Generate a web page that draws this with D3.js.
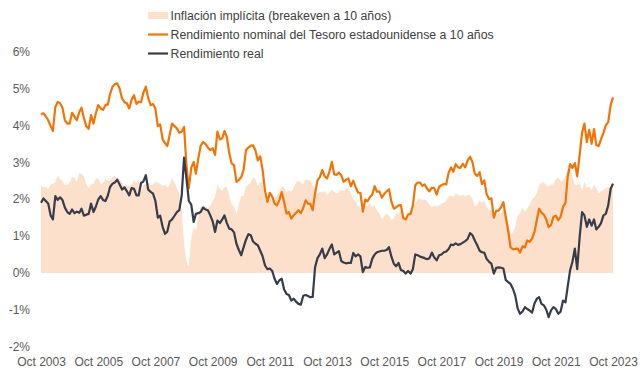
<!DOCTYPE html>
<html>
<head>
<meta charset="utf-8">
<script src="https://cdn.jsdelivr.net/npm/d3@7"></script>
<style>
  body { margin: 0; background: #fff; }
  svg text { font-family: "Liberation Sans", Arial, sans-serif; }
</style>
</head>
<body>
<svg id="chart" width="640" height="382"></svg>
<script>
// monthly values, Oct 2003 .. Oct 2023 (one row per calendar year)
var nominal = [
  4.30, 4.33, 4.25,
  4.14, 3.98, 3.85, 4.50, 4.64, 4.60, 4.48, 4.14, 4.05, 4.05, 4.34, 4.24,
  4.14, 4.36, 4.48, 4.20, 3.98, 3.91, 4.28, 4.05, 4.33, 4.55, 4.46, 4.42,
  4.55, 4.57, 4.85, 5.05, 5.12, 5.14, 5.00, 4.73, 4.63, 4.60, 4.46, 4.70,
  4.82, 4.58, 4.64, 4.63, 4.89, 5.05, 4.74, 4.55, 4.58, 4.45, 3.98, 4.03,
  3.62, 3.52, 3.44, 3.75, 4.05, 3.98, 3.92, 3.80, 3.83, 3.96, 2.90, 2.30,
  2.85, 3.01, 2.69, 3.10, 3.45, 3.55, 3.50, 3.40, 3.33, 3.38, 3.20, 3.83,
  3.62, 3.65, 3.85, 3.68, 3.25, 2.97, 2.92, 2.47, 2.52, 2.60, 2.80, 3.33,
  3.40, 3.45, 3.46, 3.32, 3.05, 3.16, 2.80, 2.22, 1.92, 2.17, 2.07, 1.88,
  1.83, 1.98, 2.19, 1.92, 1.61, 1.65, 1.47, 1.56, 1.63, 1.70, 1.62, 1.76,
  1.97, 1.88, 1.87, 1.70, 2.16, 2.51, 2.60, 2.79, 2.62, 2.56, 2.75, 3.01,
  2.67, 2.66, 2.72, 2.65, 2.47, 2.53, 2.56, 2.35, 2.50, 2.33, 2.18, 2.17,
  1.66, 1.99, 1.94, 2.05, 2.12, 2.35, 2.20, 2.21, 2.04, 2.14, 2.21, 2.27,
  1.94, 1.74, 1.78, 1.83, 1.84, 1.49, 1.45, 1.58, 1.60, 1.83, 2.38, 2.45,
  2.45, 2.36, 2.40, 2.28, 2.21, 2.31, 2.30, 2.12, 2.33, 2.38, 2.41, 2.40,
  2.72, 2.86, 2.74, 2.95, 2.86, 2.85, 2.96, 2.86, 3.05, 3.15, 3.01, 2.69,
  2.63, 2.73, 2.41, 2.51, 2.14, 2.00, 2.02, 1.50, 1.68, 1.69, 1.78, 1.92,
  1.51, 1.13, 0.70, 0.64, 0.65, 0.66, 0.55, 0.72, 0.69, 0.88, 0.84, 0.93,
  1.11, 1.44, 1.74, 1.63, 1.58, 1.45, 1.24, 1.30, 1.52, 1.55, 1.43, 1.52,
  1.79, 1.90, 2.60, 2.95, 2.85, 2.98, 2.62, 3.20, 3.80, 4.05, 3.55, 3.88,
  3.50, 3.90, 3.47, 3.44, 3.62, 3.80, 4.00, 4.09, 4.55, 4.76
];

var real = [
  1.90, 2.02, 1.95,
  1.88, 1.56, 1.45, 2.08, 1.98, 2.05, 1.98, 1.77, 1.65, 1.60, 1.72, 1.62,
  1.66, 1.63, 1.74, 1.55, 1.58, 1.60, 1.88, 1.65, 1.80, 1.99, 2.08, 1.98,
  1.95, 2.10, 2.33, 2.42, 2.45, 2.53, 2.40, 2.26, 2.32, 2.22, 2.10, 2.30,
  2.28, 2.10, 2.10, 2.44, 2.48, 2.65, 2.26, 2.20, 2.15, 1.95, 1.50, 1.55,
  1.25, 1.06, 1.12, 1.40, 1.45, 1.55, 1.65, 1.70, 2.10, 3.13, 2.55, 1.95,
  1.85, 1.38, 1.60, 1.62, 1.65, 1.77, 1.72, 1.70, 1.56, 1.40, 1.11, 1.42,
  1.35, 1.45, 1.56, 1.35, 1.20, 1.18, 1.10, 0.79, 0.62, 0.48, 0.70, 0.90,
  1.05, 1.02, 0.85, 0.79, 0.75, 0.60, 0.45, 0.20, 0.10, 0.12, 0.05, -0.16,
  -0.30, -0.20, -0.16, -0.45, -0.57, -0.60, -0.75, -0.70, -0.78, -0.84, -0.86, -0.62,
  -0.60, -0.63, -0.66, -0.65, 0.15, 0.40, 0.50, 0.66, 0.40, 0.50, 0.65, 0.77,
  0.50, 0.55, 0.59, 0.32, 0.28, 0.26, 0.27, 0.27, 0.54, 0.45, 0.50, 0.45,
  0.02, 0.16, 0.14, 0.15, 0.38, 0.50, 0.56, 0.58, 0.60, 0.60, 0.62, 0.70,
  0.44, 0.25, 0.18, 0.27, 0.08, 0.05, -0.02, 0.05, -0.02, 0.10, 0.50, 0.48,
  0.44, 0.42, 0.40, 0.37, 0.40, 0.55, 0.42, 0.34, 0.48, 0.50, 0.56, 0.58,
  0.65, 0.77, 0.75, 0.80, 0.76, 0.78, 0.82, 0.86, 0.92, 1.08, 1.02, 0.88,
  0.75, 0.60, 0.56, 0.55, 0.38, 0.30, 0.25, -0.02, 0.14, 0.15, 0.14, 0.12,
  -0.20, -0.25, -0.30, -0.43, -0.62, -0.97, -1.11, -1.05, -0.93, -0.98, -1.02, -1.08,
  -0.83, -0.70, -0.66, -0.84, -0.88, -1.00, -1.20, -1.02, -0.93, -0.98, -1.11, -1.05,
  -0.75, -0.80, -0.38, 0.07, 0.30, 0.66, 0.10, 0.97, 1.65, 1.56, 1.25, 1.45,
  1.28, 1.45, 1.18, 1.25, 1.35, 1.56, 1.60, 1.83, 2.28, 2.42
];

var breakeven = [
  2.38, 2.32, 2.32,
  2.28, 2.40, 2.42, 2.45, 2.65, 2.55, 2.50, 2.38, 2.40, 2.45, 2.60, 2.58,
  2.48, 2.70, 2.68, 2.62, 2.40, 2.30, 2.42, 2.42, 2.56, 2.56, 2.40, 2.44,
  2.55, 2.50, 2.52, 2.60, 2.62, 2.58, 2.55, 2.45, 2.35, 2.38, 2.36, 2.40,
  2.50, 2.45, 2.52, 2.22, 2.38, 2.42, 2.45, 2.38, 2.40, 2.48, 2.45, 2.42,
  2.35, 2.40, 2.32, 2.38, 2.58, 2.45, 2.30, 2.15, 1.70, 0.80, 0.30, 0.18,
  0.95, 1.25, 1.15, 1.55, 1.80, 1.82, 1.80, 1.75, 1.82, 1.95, 2.05, 2.42,
  2.28, 2.22, 2.32, 2.35, 2.10, 1.85, 1.80, 1.60, 1.85, 2.08, 2.10, 2.35,
  2.40, 2.45, 2.60, 2.55, 2.35, 2.48, 2.40, 2.05, 1.85, 2.00, 2.00, 2.00,
  2.10, 2.20, 2.35, 2.30, 2.18, 2.25, 2.20, 2.30, 2.45, 2.50, 2.45, 2.40,
  2.55, 2.52, 2.50, 2.38, 2.25, 2.15, 2.20, 2.18, 2.22, 2.12, 2.18, 2.25,
  2.20, 2.15, 2.18, 2.25, 2.22, 2.30, 2.28, 2.15, 2.02, 1.95, 1.80, 1.72,
  1.68, 1.82, 1.80, 1.90, 1.78, 1.85, 1.68, 1.62, 1.45, 1.55, 1.60, 1.55,
  1.45, 1.48, 1.62, 1.60, 1.70, 1.50, 1.45, 1.52, 1.62, 1.75, 1.88, 2.00,
  2.02, 1.98, 2.00, 1.95, 1.85, 1.78, 1.82, 1.80, 1.82, 1.88, 1.90, 1.95,
  2.08, 2.10, 2.05, 2.15, 2.12, 2.10, 2.12, 2.08, 2.12, 2.10, 2.02, 1.80,
  1.85, 1.98, 1.90, 1.95, 1.80, 1.68, 1.72, 1.55, 1.58, 1.60, 1.62, 1.75,
  1.70, 1.40, 1.05, 1.10, 1.25, 1.55, 1.62, 1.78, 1.65, 1.75, 1.85, 2.00,
  2.05, 2.18, 2.38, 2.45, 2.45, 2.38, 2.35, 2.40, 2.40, 2.55, 2.58, 2.50,
  2.48, 2.65, 2.80, 2.85, 2.60, 2.40, 2.38, 2.45, 2.25, 2.48, 2.30, 2.35,
  2.25, 2.40, 2.30, 2.15, 2.22, 2.25, 2.30, 2.32, 2.30, 2.35
];

var xTickLabels = ["Oct 2003", "Oct 2005", "Oct 2007", "Oct 2009", "Oct 2011",
                   "Oct 2013", "Oct 2015", "Oct 2017", "Oct 2019", "Oct 2021", "Oct 2023"];
var yTicks = [-2, -1, 0, 1, 2, 3, 4, 5, 6];

var legendLabels = ["Inflación implícita (breakeven a 10 años)",
                    "Rendimiento nominal del Tesoro estadounidense a 10 años",
                    "Rendimiento real"];

var colors = { area: "#fce0cc", nominal: "#f27405", real: "#363c49", text: "#595959" };

var start = new Date(2003, 9, 1);
var dates = nominal.map(function(d, i) { return d3.timeMonth.offset(start, i); });
var tickDates = xTickLabels.map(function(d, i) { return d3.timeMonth.offset(start, i * 24); });

var svg = d3.select('#chart');

var x = d3.scaleTime()
  .domain([start, dates[dates.length - 1]])
  .range([41, 613]);

var y = d3.scaleLinear()
  .domain([-2, 6])
  .range([346.6, 51.7]);

//----- Series -----
var area = d3.area()
  .x(function(d, i) { return x(dates[i]); })
  .y0(y(0))
  .y1(function(d) { return y(d); });

svg.append('path')
  .datum(breakeven)
  .attr('fill', colors.area)
  .attr('d', area);

var line = d3.line()
  .x(function(d, i) { return x(dates[i]); })
  .y(function(d) { return y(d); });

svg.append('path')
  .datum(nominal)
  .attr('fill', 'none')
  .attr('stroke', colors.nominal)
  .attr('stroke-width', 2.2)
  .attr('stroke-linejoin', 'round')
  .attr('d', line);

svg.append('path')
  .datum(real)
  .attr('fill', 'none')
  .attr('stroke', colors.real)
  .attr('stroke-width', 2.2)
  .attr('stroke-linejoin', 'round')
  .attr('d', line);

//----- Axes -----
var yAxis = svg.append('g')
  .attr('transform', 'translate(33,0)')
  .call(d3.axisLeft(y).tickValues(yTicks).tickSize(0).tickPadding(3)
          .tickFormat(function(d) { return d + '%'; }));

var xAxis = svg.append('g')
  .attr('transform', 'translate(0,354)')
  .call(d3.axisBottom(x).tickValues(tickDates).tickSize(0).tickPadding(3)
          .tickFormat(function(d, i) { return xTickLabels[i]; }));

[yAxis, xAxis].forEach(function(g) {
  g.select('.domain').remove();
  g.selectAll('text')
   .attr('fill', colors.text)
   .style('font-size', '12px');
});

//----- Legend -----
var legend = svg.append('g').attr('transform', 'translate(148,0)');
var legendY = [15.5, 34.5, 53.5];

legend.append('rect')
  .attr('x', 0).attr('y', legendY[0] - 3.5)
  .attr('width', 20).attr('height', 7)
  .attr('fill', colors.area);

legend.selectAll('line.key')
  .data([colors.nominal, colors.real])
  .enter().append('line')
  .attr('class', 'key')
  .attr('x1', 0).attr('x2', 20)
  .attr('y1', function(d, i) { return legendY[i + 1]; })
  .attr('y2', function(d, i) { return legendY[i + 1]; })
  .attr('stroke', function(d) { return d; })
  .attr('stroke-width', 2.2);

legend.selectAll('text')
  .data(legendLabels)
  .enter().append('text')
  .attr('x', 22.5)
  .attr('y', function(d, i) { return legendY[i]; })
  .attr('dy', '0.35em')
  .attr('fill', '#404040')
  .style('font-size', '12.3px')
  .text(function(d) { return d; });
</script>
</body>
</html>
